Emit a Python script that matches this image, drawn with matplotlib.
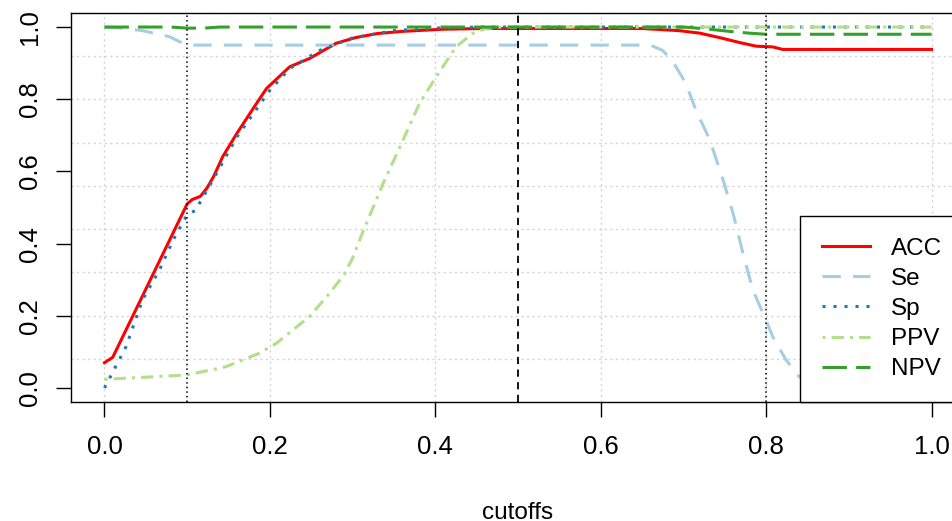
import numpy as np
import matplotlib
matplotlib.use("Agg")
import matplotlib.pyplot as plt

plt.rcParams['font.family'] = ['Liberation Sans', 'DejaVu Sans']

# values
acc_x = [0, 0.01, 0.1, 0.106, 0.116, 0.124, 0.132, 0.143, 0.16, 0.18, 0.196, 0.224,
         0.248, 0.28, 0.304, 0.33, 0.36, 0.41, 0.46, 0.65, 0.695, 0.72, 0.747,
         0.768, 0.788, 0.808, 0.82, 1.0]
acc_y = [0.07, 0.085, 0.51, 0.522, 0.531, 0.554, 0.586, 0.641, 0.705, 0.775, 0.83, 0.89,
         0.913, 0.955, 0.971, 0.982, 0.988, 0.994, 0.996, 0.996, 0.99, 0.983, 0.969,
         0.957, 0.947, 0.945, 0.938, 0.938]

se_x = [0, 0.02, 0.046, 0.079, 0.099, 0.66, 0.675, 0.687, 0.703, 0.715, 0.732, 0.748,
        0.76, 0.772, 0.784, 0.798, 0.808, 0.824, 0.84, 0.86, 0.88, 1.0]
se_y = [1.0, 0.997, 0.99, 0.973, 0.95, 0.95, 0.935, 0.905, 0.844, 0.77, 0.687, 0.576,
        0.484, 0.373, 0.271, 0.198, 0.142, 0.078, 0.031, 0.01, 0.0, 0.0]

sp_x = [0, 0.026, 0.046, 0.0665, 0.083, 0.1, 0.11, 0.131, 0.16, 0.2, 0.224, 0.26,
        0.3, 0.35, 0.4, 0.45, 1.0]
sp_y = [0.0, 0.114, 0.244, 0.327, 0.41, 0.48, 0.492, 0.576, 0.695, 0.825, 0.885, 0.935,
        0.97, 0.99, 0.997, 1.0, 1.0]

ppv_x = [0, 0.1, 0.147, 0.187, 0.208, 0.248, 0.272, 0.29, 0.3, 0.312, 0.337, 0.361, 0.381,
         0.401, 0.425, 0.445, 0.461, 0.48, 1.0]
ppv_y = [0.024, 0.036, 0.059, 0.096, 0.124, 0.198, 0.262, 0.315, 0.36, 0.43, 0.567, 0.687, 0.789,
         0.862, 0.945, 0.982, 0.996, 1.0, 1.0]

npv_x = [0, 0.08, 0.1, 0.12, 0.14, 0.7, 0.727, 0.76, 0.78, 0.8, 1.0]
npv_y = [1.0, 1.0, 0.997, 0.997, 1.0, 1.0, 0.995, 0.987, 0.983, 0.98, 0.98]

cut_lines = [0.1, 0.5, 0.8]
x_ticks = [0.0, 0.2, 0.4, 0.6, 0.8, 1.0]
y_ticks = [0.0, 0.2, 0.4, 0.6, 0.8, 1.0]
y_grid = [0.08, 0.2, 0.32, 0.44, 0.56, 0.68, 0.8, 0.92]

fs = 18.5
leg_fs = 17.5
lw = 2.2

fig = plt.figure(figsize=(9.53, 5.21), dpi=100)
ax = fig.add_axes([0.0749, 0.2276, 0.9373, 0.7482])
ax.set_xlim(-0.04, 1.04)
ax.set_ylim(-0.04, 1.04)

for gx in x_ticks:
    ax.axvline(gx, color='#D3D3D3', lw=1, ls=(0, (1.5, 2.5)), zorder=0)
for gy in y_grid:
    ax.axhline(gy, color='#D3D3D3', lw=1, ls=(0, (1.5, 2.5)), zorder=0)

ax.plot(acc_x, acc_y, color='#FF0000', lw=lw, ls='-', label='ACC', zorder=2)
ax.plot(se_x, se_y, color='#A6CEE3', lw=lw, ls=(0, (6, 4)), label='Se', zorder=2)
ax.plot(sp_x, sp_y, color='#1F78B4', lw=lw, ls=(0, (1, 2.6)), label='Sp', zorder=2)
ax.plot(ppv_x, ppv_y, color='#B2DF8A', lw=lw, ls=(0, (1, 2, 4, 2)), label='PPV', zorder=2)
ax.plot(npv_x, npv_y, color='#33A02C', lw=lw, ls=(0, (8, 3)), label='NPV', zorder=2)

ax.axvline(cut_lines[0], color='black', lw=1.1, ls=(0, (1, 2)), zorder=3)
ax.axvline(cut_lines[1], color='black', lw=1.3, ls=(0, (4, 3)), zorder=3)
ax.axvline(cut_lines[2], color='black', lw=1.1, ls=(0, (1, 2)), zorder=3)

ax.set_xticks(x_ticks)
ax.set_xticklabels([f"{v:.1f}" for v in x_ticks])
ax.set_yticks(y_ticks)
ax.set_yticklabels([f"{v:.1f}" for v in y_ticks], rotation=90, va='center')
ax.tick_params(axis='both', direction='out', length=10.8, width=1, labelsize=fs, color='black')
ax.tick_params(axis='x', pad=12.5)
ax.tick_params(axis='y', pad=10.5)

for s in ax.spines.values():
    s.set_linewidth(1)
    s.set_color('black')

ax.set_xlabel('cutoffs', fontsize=17.5, labelpad=31)

leg = ax.legend(loc='lower right', bbox_to_anchor=(1, 0), fontsize=leg_fs, frameon=True,
                fancybox=False, edgecolor='black', framealpha=1, borderaxespad=0,
                handlelength=2.0, handletextpad=0.85, labelspacing=0.33, borderpad=0.92)
leg.get_frame().set_linewidth(1)
leg.set_zorder(5)

fig.savefig('out.png', dpi=100)
